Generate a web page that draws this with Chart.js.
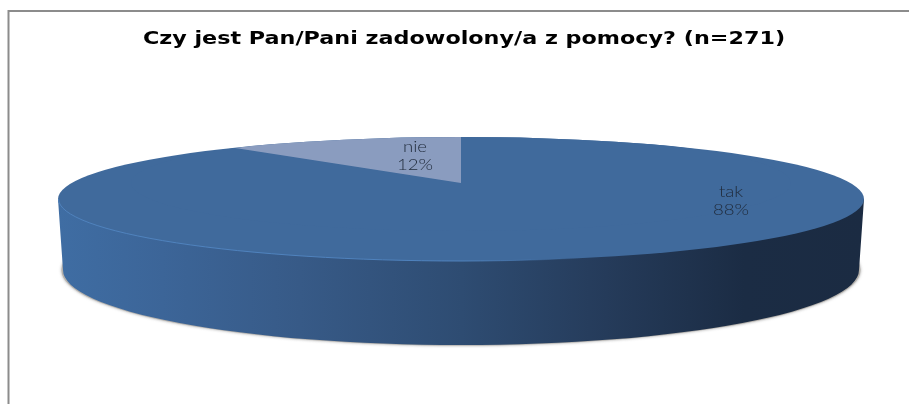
<!DOCTYPE html>
<html lang="pl">
<head>
    <meta charset="UTF-8">
    <title>Czy jest Pan/Pani zadowolony/a z pomocy?</title>
    <script src="https://cdn.jsdelivr.net/npm/chart.js"></script>
    <style>
        body { margin: 0; background: #fff; }
        canvas { display: block; }
    </style>
</head>
<body>
    <canvas id="pieChart" width="909" height="404"></canvas>

    <script>
        const chartTitle = 'Czy jest Pan/Pani zadowolony/a z pomocy? (n=271)';
        const categories = ['tak', 'nie'];
        const percents = [88, 12];
        const sliceColors = ['#406a9c', '#8a9cbf'];

        // Outline of the flattened disc (the reference is a 3D pie in perspective)
        const disc = { x: 461, y: 199, rx: 403, ry: 62 };
        const discBottom = { x: 461, y: 270, rx: 398, ry: 75 };
        // The pie's apex sits above the disc centre, so slices get their own flattening
        const apex = { x: 461, y: 183 };
        const pieRadius = 330;
        const pieFlatten = 48 / 330;
        const labelSpots = [{ x: 731, y: 192 }, { x: 415, y: 147 }];
        // Century Gothic is not installed, so the text is stretched sideways to its width
        const titleCentre = 464;
        const titleStretch = 1.31;
        const labelStretch = 1.2;

        const framePlugin = {
            id: 'frame',
            beforeDraw(chart) {
                const ctx = chart.ctx;
                ctx.save();
                ctx.strokeStyle = '#8c8c8c';
                ctx.lineWidth = 2;
                ctx.beginPath();
                ctx.moveTo(8.5, 404);
                ctx.lineTo(8.5, 11);
                ctx.lineTo(909, 11);
                ctx.stroke();
                ctx.restore();

                // stays on while the title box draws, discPlugin takes it off again
                ctx.save();
                ctx.translate(titleCentre, 0);
                ctx.scale(titleStretch, 1);
                ctx.translate(-titleCentre, 0);
            }
        };

        const discPlugin = {
            id: 'disc',
            beforeDatasetsDraw(chart) {
                const ctx = chart.ctx;
                ctx.restore();
                ctx.save();

                // soft shadow under the disc
                ctx.save();
                ctx.shadowColor = 'rgba(90, 90, 90, 0.6)';
                ctx.shadowBlur = 3;
                ctx.fillStyle = '#b5b1ab';
                ctx.beginPath();
                ctx.ellipse(discBottom.x, discBottom.y, discBottom.rx + 1.5, discBottom.ry + 0.5, 0, 0, Math.PI * 2);
                ctx.fill();
                ctx.restore();

                // side wall
                const side = ctx.createLinearGradient(58, 0, 865, 0);
                side.addColorStop(0, '#3f6da3');
                side.addColorStop(0.13, '#3c6598');
                side.addColorStop(0.3, '#375a87');
                side.addColorStop(0.5, '#2e4c72');
                side.addColorStop(0.68, '#253b5a');
                side.addColorStop(0.85, '#1b2c44');
                side.addColorStop(1, '#1b2b42');
                ctx.fillStyle = side;
                ctx.beginPath();
                ctx.moveTo(disc.x - disc.rx, disc.y);
                ctx.lineTo(discBottom.x - discBottom.rx, discBottom.y);
                ctx.ellipse(discBottom.x, discBottom.y, discBottom.rx, discBottom.ry, 0, Math.PI, 0, true);
                ctx.lineTo(disc.x + disc.rx, disc.y);
                ctx.closePath();
                ctx.fill();

                // top face, in the colour of the big slice
                ctx.fillStyle = sliceColors[0];
                ctx.beginPath();
                ctx.ellipse(disc.x, disc.y, disc.rx, disc.ry, 0, 0, Math.PI * 2);
                ctx.fill();

                // light rim along the front edge
                const rim = ctx.createLinearGradient(58, 0, 865, 0);
                rim.addColorStop(0, '#4f82bd');
                rim.addColorStop(0.5, '#4f82bd');
                rim.addColorStop(0.65, 'rgba(79, 130, 189, 0)');
                ctx.strokeStyle = rim;
                ctx.lineWidth = 1;
                ctx.beginPath();
                ctx.ellipse(disc.x, disc.y, disc.rx - 0.5, disc.ry, 0, Math.PI, 0, true);
                ctx.stroke();

                // slices: clip to the disc, then squash the round pie onto it
                const arc = chart.getDatasetMeta(0).data[0];
                ctx.beginPath();
                ctx.ellipse(disc.x, disc.y, disc.rx, disc.ry, 0, 0, Math.PI * 2);
                ctx.clip();
                ctx.translate(apex.x, apex.y);
                ctx.scale(1, pieFlatten);
                ctx.translate(-arc.x, -arc.y);
            },
            afterDatasetsDraw(chart) {
                const ctx = chart.ctx;
                ctx.restore();

                categories.forEach((name, i) => {
                    ctx.save();
                    ctx.translate(labelSpots[i].x, labelSpots[i].y);
                    ctx.scale(labelStretch, 1);
                    ctx.fillStyle = '#1f2a3a';
                    ctx.font = '300 15.5px Lato';
                    ctx.textAlign = 'center';
                    ctx.textBaseline = 'middle';
                    ctx.fillText(name, 0, 0);
                    ctx.fillText(percents[i] + '%', 0, 18);
                    ctx.restore();
                });
            }
        };

        new Chart(document.getElementById('pieChart'), {
            type: 'pie',
            data: {
                labels: categories,
                datasets: [{
                    data: percents,
                    backgroundColor: sliceColors,
                    borderWidth: 0,
                    radius: pieRadius,
                    clip: false
                }]
            },
            options: {
                responsive: false,
                animation: false,
                layout: { padding: { left: 19 } },
                plugins: {
                    legend: { display: false },
                    tooltip: { enabled: false },
                    title: {
                        display: true,
                        text: chartTitle,
                        color: '#000',
                        font: { family: 'DejaVu Sans', size: 17, weight: 'bold' },
                        padding: { top: 29, bottom: 10 }
                    }
                }
            },
            plugins: [framePlugin, discPlugin]
        });
    </script>
</body>
</html>
